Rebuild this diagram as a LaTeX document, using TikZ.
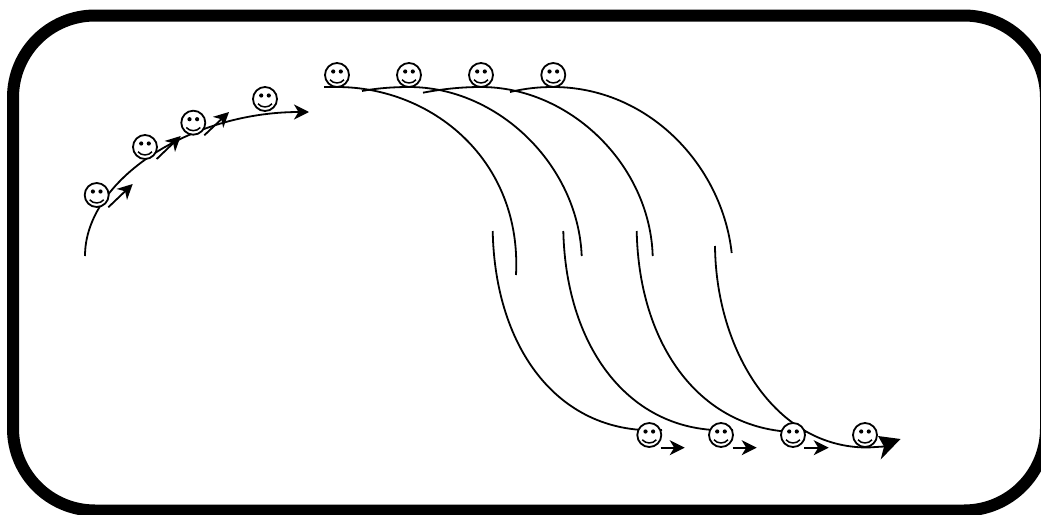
\documentclass[tikz,border=0pt]{standalone}
\usetikzlibrary{arrows.meta}
\tikzset{
  x=1pt,y=-1pt,
  curve/.style={line width=1.8pt,line cap=butt},
  small arrow/.style={line width=1.8pt,-{Stealth[length=15pt,width=15pt,inset=4.5pt]}},
  smiley/.style={circle,draw,fill=white,line width=1.8pt,minimum size=24pt,inner sep=0pt,
    path picture={
      \fill[black] ([shift={(-3.8pt,3.5pt)}]path picture bounding box.center) circle (2.1pt);
      \fill[black] ([shift={(3.8pt,3.5pt)}]path picture bounding box.center) circle (2.1pt);
      \draw[black,line width=1.5pt,fill=none] ([shift={(-7pt,-4.8pt)}]path picture bounding box.center)
        .. controls +(3.5pt,-4.2pt) and +(-3.5pt,-4.2pt) .. ([shift={(7pt,-4.8pt)}]path picture bounding box.center);
    }},
}
\begin{document}
\begin{tikzpicture}
\useasboundingbox (0,0) rectangle (1041,514);
\clip (0,0) rectangle (1041,514);
\fill[white] (0,0) rectangle (1041,514);
\draw[line width=12pt,rounded corners=82pt] (13,15.5) rectangle (1046,510.5);
% ascending curve
\coordinate (a0) at (85,256);
\coordinate (a1) at (309,112);
\draw[small arrow] (a0) .. controls (85,180) and (190,112) .. (a1);
% top curves
\coordinate (t1s) at (324,87);   \coordinate (t1p) at (337,87);   \coordinate (t1e) at (516,275);
\coordinate (t2s) at (362,91);   \coordinate (t2p) at (409,87);   \coordinate (t2e) at (581.7,256);
\coordinate (t3s) at (423,92.7); \coordinate (t3p) at (481,87);   \coordinate (t3e) at (652.7,256);
\coordinate (t4s) at (510,92);   \coordinate (t4p) at (553,87);   \coordinate (t4e) at (731.7,253);
\draw[curve] (t1s) -- (t1p) .. controls (432,87) and (522,160) .. (t1e);
\draw[curve] (t2s) .. controls (375,88.5) and (392,87) .. (t2p) .. controls (498,87) and (578,165) .. (t2e);
\draw[curve] (t3s) .. controls (445,88.5) and (464,87) .. (t3p) .. controls (570,87) and (650,165) .. (t3e);
\draw[curve] (t4s) .. controls (525,88.5) and (538,87) .. (t4p) .. controls (648,87) and (722,165) .. (t4e);
% bottom curves
\coordinate (b1s) at (492.7,231); \coordinate (b1e) at (662,430);
\coordinate (b2s) at (563.3,231); \coordinate (b2e) at (733,430);
\coordinate (b3s) at (636.7,231); \coordinate (b3e) at (806,432);
\coordinate (b4s) at (715,246);   \coordinate (b4m) at (884,446.5);
\draw[curve] (b1s) .. controls (495,350) and (560,436) .. (b1e);
\draw[curve] (b2s) .. controls (566,350) and (632,436) .. (b2e);
\draw[curve] (b3s) .. controls (639,350) and (705,436) .. (b3e);
\draw[curve] (b4s) .. controls (716,350) and (775,448) .. (868,447.5) -- (b4m);
% smileys
\foreach \n/\p in {s1/{96.7,195},s2/{145,147},s3/{193.3,122.7},s4/{265,99},
  s5/{337,75},s6/{409,75},s7/{481,75},s8/{553.3,75},
  s9/{649.3,435},s10/{721,435},s11/{793,435},s12/{865,435}}
  \node[smiley] (\n) at (\p) {};
% large arrowhead
\fill (900.5,439) -- (878,436) -- (884,446.5) -- (880.7,459.5) -- cycle;
% motion arrows
\coordinate (m1a) at (108.3,207.3); \coordinate (m1b) at (132.7,184);
\coordinate (m2a) at (156.7,159);   \coordinate (m2b) at (180.7,136);
\coordinate (m3a) at (204.3,135.3); \coordinate (m3b) at (229,112);
\coordinate (m4a) at (660.7,447.7); \coordinate (m4b) at (684.7,447.7);
\coordinate (m5a) at (732.7,447.7); \coordinate (m5b) at (756.7,447.7);
\coordinate (m6a) at (804.3,447.7); \coordinate (m6b) at (828.7,447.7);
\foreach \i in {1,...,6} \draw[small arrow] (m\i a) -- (m\i b);
\end{tikzpicture}
\end{document}
